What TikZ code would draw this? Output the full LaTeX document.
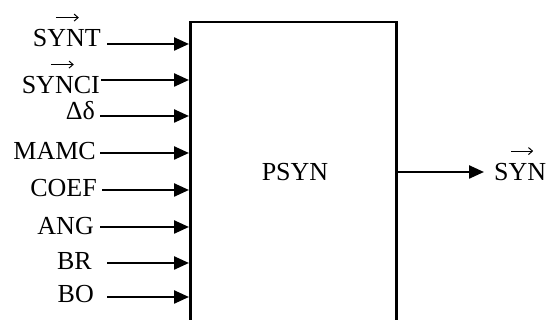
\documentclass[tikz,border=0pt]{standalone}
\usepackage{fontspec}
\setmainfont{Liberation Serif}
\usepackage{tikz}
\usetikzlibrary{arrows.meta,positioning}
\tikzset{
  procbox/.style={draw,line width=2.5pt,minimum width=206pt,minimum height=340pt,
    anchor=north west,inner sep=0pt},
  inlabel/.style={font=\fontsize{26}{30}\selectfont,inner sep=0pt,anchor=base east},
  vecmark/.style={-{Straight Barb[length=4pt,width=7pt]},line width=1pt},
  flowarrow/.style={-{Triangle[length=15pt,width=13pt]},line width=2.4pt}
}

\begin{document}
\begin{tikzpicture}[x=1pt,y=1pt]
  \useasboundingbox (0,0) rectangle (555,320);

  % process block
  \node[procbox] (psyn) at (189,299) {};
  \node[font=\fontsize{26}{30}\selectfont] (psynname) at (295,148) {PSYN};

  % inputs
  \node[inlabel] (synt) at (101,273) {SYNT};
  \node[inlabel] (synci) at (100,226) {SYNCI};
  \node[inlabel] (ddelta) at (95,200) {Δδ};
  \node[inlabel] (mamc) at (96,160) {MAMC};
  \node[inlabel] (coef) at (97,123) {COEF};
  \node[inlabel] (ang) at (94,85) {ANG};
  \node[inlabel] (br) at (92,50) {BR};
  \node[inlabel] (bo) at (94,17) {BO};

  % vector marks over the names
  \draw[vecmark] ([xshift=-11pt,yshift=12pt]synt.north) -- ++(23pt,0);
  \draw[vecmark] ([xshift=-10pt,yshift=12pt]synci.north) -- ++(23pt,0);

  \coordinate (insynt) at (107,276);
  \coordinate (insynci) at (101,240);
  \coordinate (inddelta) at (100,204);
  \coordinate (inmamc) at (100,167);
  \coordinate (incoef) at (102,130);
  \coordinate (inang) at (100,93);
  \coordinate (inbr) at (107,57);
  \coordinate (inbo) at (107,23);

  \draw[flowarrow] (insynt) -- (insynt -| psyn.west);
  \draw[flowarrow] (insynci) -- (insynci -| psyn.west);
  \draw[flowarrow] (inddelta) -- (inddelta -| psyn.west);
  \draw[flowarrow] (inmamc) -- (inmamc -| psyn.west);
  \draw[flowarrow] (incoef) -- (incoef -| psyn.west);
  \draw[flowarrow] (inang) -- (inang -| psyn.west);
  \draw[flowarrow] (inbr) -- (inbr -| psyn.west);
  \draw[flowarrow] (inbo) -- (inbo -| psyn.west);

  % output
  \node[inlabel,anchor=west] (syn) at (494,148) {SYN};
  \draw[vecmark] ([xshift=-9pt,yshift=12pt]syn.north) -- ++(22pt,0);
  \draw[flowarrow,shorten >=10pt] (psyn.east |- syn.west) -- (syn.west);
\end{tikzpicture}
\end{document}
